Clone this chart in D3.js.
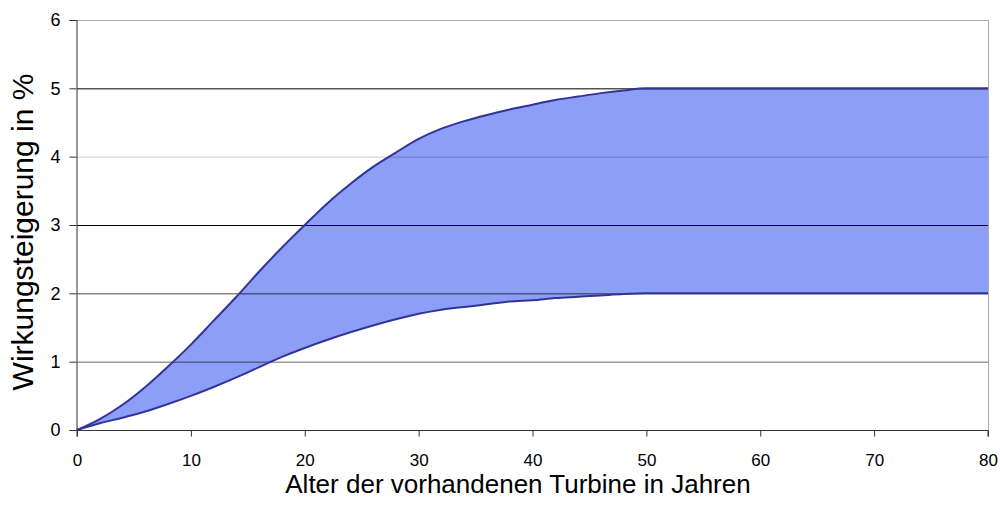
<!DOCTYPE html>
<html><head><meta charset="utf-8">
<script src="https://cdn.jsdelivr.net/npm/d3@7"></script>
<style>body{margin:0;background:#fff}svg{display:block}text{font-family:"Liberation Sans",Arial,sans-serif;fill:#000}</style>
</head><body><svg id="c" width="1000" height="508"></svg>
<script>
const years = [0,2,4,6,8,10,12,14,16,18,20,22,24,26,28,30,32,34,36,38,40,42,44,46,48,50,55,60,70,80];
const upper = [0,0.16,0.37,0.63,0.93,1.25,1.6,1.95,2.32,2.67,3.0,3.32,3.6,3.85,4.06,4.26,4.41,4.52,4.61,4.69,4.76,4.83,4.88,4.93,4.97,5.0,5.0,5.0,5.0,5.0];
const lower = [0,0.1,0.18,0.27,0.38,0.5,0.63,0.77,0.92,1.07,1.2,1.32,1.43,1.53,1.62,1.7,1.76,1.8,1.84,1.88,1.9,1.93,1.95,1.97,1.99,2.0,2.0,2.0,2.0,2.0];
const xTicks = [0,10,20,30,40,50,60,70,80];
const yTicks = [0,1,2,3,4,5,6];
const xTitle = "Alter der vorhandenen Turbine in Jahren";
const yTitle = "Wirkungsteigerung in %";

const svg = d3.select("#c");
const x = d3.scaleLinear().domain([0,80]).range([77,988]);
const y = d3.scaleLinear().domain([0,6]).range([430,20]);
const data = years.map((d,i)=>({x:d,u:upper[i],l:lower[i]}));

const area = d3.area().x(d=>x(d.x)).y0(d=>y(d.l)).y1(d=>y(d.u)).curve(d3.curveMonotoneX);
svg.append("path").datum(data).attr("d",area).attr("fill","#8c9ef5");

// gridlines
const gridStyle = {1:0.6,2:0.7,3:1,4:0.2,5:1,6:0.33};
svg.append("g").selectAll("line").data(yTicks.filter(t=>t>0)).join("line")
  .attr("x1",x(0)).attr("x2",x(80)).attr("y1",d=>y(d)+0.5).attr("y2",d=>y(d)+0.5)
  .attr("stroke","#000").attr("stroke-opacity",d=>gridStyle[d]).attr("stroke-width",1);

// right border
svg.append("line").attr("x1",x(80)+0.5).attr("x2",x(80)+0.5).attr("y1",y(6)).attr("y2",y(0))
  .attr("stroke","#aaa");

// outline curves
const lineU = d3.line().x(d=>x(d.x)).y(d=>y(d.u)).curve(d3.curveMonotoneX);
const lineL = d3.line().x(d=>x(d.x)).y(d=>y(d.l)).curve(d3.curveMonotoneX);
svg.append("path").datum(data).attr("d",lineU).attr("fill","none").attr("stroke","#333399").attr("stroke-width",2);
svg.append("path").datum(data).attr("d",lineL).attr("fill","none").attr("stroke","#333399").attr("stroke-width",2);

// axes
const ax = svg.append("g").attr("transform",`translate(0,${y(0)+0.5})`)
  .call(d3.axisBottom(x).tickValues(xTicks).tickSize(6).tickPadding(17).tickFormat(d3.format("d")));
const ay = svg.append("g").attr("transform",`translate(${x(0)-0.5},0)`)
  .call(d3.axisLeft(y).tickValues(yTicks).tickSize(7).tickPadding(9).tickFormat(d3.format("d")));
[ax,ay].forEach(g=>{
  g.select(".domain").attr("stroke","#333");
  g.selectAll(".tick line").attr("stroke","#333");
  g.selectAll(".tick text").style("font-size","17px").attr("fill","#000").style("font-family","'Liberation Sans',Arial,sans-serif");
});
ay.selectAll(".tick text").style("font-size","18px");
ax.select(".domain").attr("d",`M${x(0)},6V0H${x(80)}V6`);

svg.append("text").attr("x",518).attr("y",493).attr("text-anchor","middle")
  .style("font-size","26px").text(xTitle);
svg.append("text").attr("transform",`translate(33,232) rotate(-90)`).attr("text-anchor","middle")
  .style("font-size","30px").text(yTitle);
</script></body></html>
